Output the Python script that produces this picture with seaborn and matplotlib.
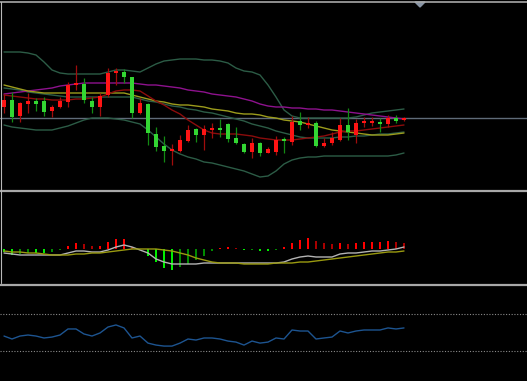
import numpy as np
import pandas as pd
import matplotlib
matplotlib.use("Agg")
import matplotlib.pyplot as plt
import matplotlib.patches as mpatches
from matplotlib.lines import Line2D
import seaborn as sns

# candles (price units, no scale shown on the chart)
opens = [93, 100, 84, 96, 99, 99, 89, 93, 98, 115, 116, 99, 93, 105, 127, 128, 123, 87, 96, 66,
         54, 49, 49, 59, 71, 65, 70, 72, 76, 62, 56, 48, 57, 47, 48, 61, 58, 79, 75, 77,
         54, 57, 60, 75, 65, 77, 77, 77, 76, 82, 80]
highs = [106, 108, 98, 107, 102, 103, 95, 103, 118, 135, 122, 103, 107, 132, 132, 131, 123, 102, 97, 73,
         64, 56, 65, 75, 72, 75, 77, 81, 77, 73, 57, 62, 58, 53, 64, 63, 84, 88, 83, 79,
         62, 68, 82, 92, 81, 83, 83, 82, 85, 85, 83]
lows = [87, 78, 78, 87, 89, 84, 83, 92, 93, 110, 97, 87, 84, 103, 115, 117, 82, 86, 55, 49,
        38, 35, 48, 58, 58, 50, 62, 63, 58, 56, 47, 42, 44, 47, 45, 47, 55, 70, 72, 53,
        53, 55, 59, 60, 57, 73, 74, 68, 73, 77, 79]
closes = [100, 83, 97, 99, 96, 88, 93, 99, 115, 117, 100, 93, 104, 127, 129, 123, 87, 97, 67, 53,
          49, 51, 60, 70, 65, 71, 72, 70, 61, 57, 48, 57, 47, 51, 60, 59, 78, 75, 77, 54,
          57, 62, 75, 68, 77, 78, 78, 76, 82, 79, 82]

# overlays
bb_upper = [148, 148, 148, 147, 145, 138, 130, 127, 126, 126, 126, 126, 126, 128, 130, 130, 129, 128, 132, 136,
            139, 140, 141, 141, 141, 140, 140, 139, 137, 132, 129, 128, 125, 115, 103, 90, 84, 82, 82, 82,
            82, 82, 82, 82, 83, 85, 87, 88, 89, 90, 91]
bb_mid = [112, 111, 110, 108, 107, 106, 105, 104, 103, 103, 103, 103, 103, 103, 103, 103, 103, 101, 99, 98,
          96, 94, 93, 91, 90, 88, 87, 85, 83, 81, 79, 76, 74, 72, 69, 67, 65, 63, 62, 62,
          62, 62, 63, 63, 64, 64, 65, 66, 66, 67, 68]
bb_lower = [75, 73, 72, 71, 70, 70, 70, 72, 74, 77, 80, 82, 82, 82, 81, 80, 78, 76, 70, 63,
            56, 50, 46, 43, 41, 38, 37, 35, 33, 31, 29, 26, 23, 24, 29, 36, 40, 42, 43, 43,
            44, 44, 44, 44, 44, 44, 44, 44, 44, 45, 47]
ma_purple = [106, 107, 108, 109, 110, 111, 112, 114, 115, 116, 117, 117, 117, 117, 117, 117, 117, 116, 115, 115,
             114, 113, 112, 110, 109, 108, 106, 105, 104, 103, 101, 99, 96, 94, 93, 93, 92, 92, 91, 91,
             90, 90, 89, 88, 87, 86, 85, 84, 83, 82, 81]
ma_yellow = [115, 113, 111, 109, 108, 107, 107, 107, 107, 107, 107, 107, 107, 107, 107, 107, 105, 103, 101, 99,
             98, 96, 95, 95, 94, 93, 91, 90, 89, 87, 86, 86, 85, 83, 82, 80, 79, 78, 76, 74,
             72, 70, 69, 68, 67, 66, 65, 65, 65, 66, 67]
ma_red = [105, 104, 103, 102, 101, 101, 100, 100, 100, 101, 101, 102, 103, 106, 109, 110, 110, 109, 104, 99,
          95, 90, 86, 80, 75, 70, 67, 66, 66, 66, 65, 64, 62, 61, 60, 60, 60, 61, 62, 63,
          64, 66, 68, 69, 69, 70, 71, 72, 73, 74, 75]
last_price = 82

# MACD panel
macd_hist = [-3, -6, -5, -4, -4, -4, -3, -1, 3, 6, 5, 3, 3, 7, 10, 10, 2, 0, -7, -13,
             -19, -21, -18, -15, -11, -7, -2, 1, 2, 1, -1, -0.8, -2, -2, -1, 2, 6, 9, 11, 8,
             6, 5, 6.5, 5.5, 6.3, 7.3, 7.3, 7.3, 8.3, 7.3, 6.3]
macd_line = [-4, -5, -6, -6, -6, -6, -6, -6, -4, -2, -2, -3, -3, -1, 2, 4, 2, -1, -4, -10,
             -13, -15, -15, -15, -15, -14, -14, -14, -14, -14, -14, -14, -14, -14, -14, -13, -10, -8, -7, -8,
             -8, -8, -5, -4, -4, -3, -2, -2, -1, 0, 2]
macd_signal = [-2, -3, -3, -4, -4, -5, -6, -6, -6, -5, -5, -4, -4, -3, -2, -1, 0, 0, 0, 0,
               -1, -2, -4, -6, -9, -11, -13, -14, -14, -14, -15, -15, -15, -15, -14, -14, -14, -13, -13, -12,
               -11, -10, -9, -8, -7, -6, -5, -4, -3, -3, -2]

# RSI panel
rsi = [46.2, 43.0, 46.2, 47.3, 46.2, 44.1, 45.1, 47.3, 53.8, 53.8, 48.4, 46.2, 49.5, 55.9, 58.1, 54.9, 44.1, 46.2, 38.6, 36.5,
       35.4, 35.4, 38.6, 43.0, 41.9, 44.1, 44.1, 43.0, 40.8, 39.7, 36.5, 40.8, 38.6, 39.7, 44.1, 43.0, 52.7, 51.6, 51.6, 43.0,
       44.1, 45.1, 51.6, 49.5, 51.6, 52.7, 52.7, 52.7, 54.9, 53.8, 54.9]
rsi_levels = [70, 30]

W, H = 527, 381


def axes_px(fig, top, bottom):
    # rectangle given in image pixels
    return fig.add_axes([0, 1 - bottom / H, 1, (bottom - top) / H])


def main():
    sns.set_theme(style="dark", rc={"axes.facecolor": "black", "figure.facecolor": "black"})

    n = len(closes)
    df = pd.DataFrame({
        "i": np.arange(n), "open": opens, "high": highs, "low": lows, "close": closes,
        "up": bb_upper, "mid": bb_mid, "lo": bb_lower,
        "purple": ma_purple, "yellow": ma_yellow, "red": ma_red,
        "hist": macd_hist, "macd": macd_line, "signal": macd_signal, "rsi": rsi,
    })

    fig = plt.figure(figsize=(W / 100, H / 100), dpi=100, facecolor="black")
    ax1 = axes_px(fig, 3, 189)
    ax2 = axes_px(fig, 192, 283)
    ax3 = axes_px(fig, 286, 379)
    xlim = (-0.5, W / 8 - 0.5)

    # --- price panel
    bull = df["close"] >= df["open"]
    body_lo = np.minimum(df["open"], df["close"])
    body_h = np.maximum((df["close"] - df["open"]).abs(), 1.6)
    ax1.vlines(df["i"], df["low"], df["high"], colors=np.where(bull, "#a00c0c", "#138a13"), lw=0.9, zorder=3)
    ax1.bar(df["i"], body_h, bottom=body_lo, width=0.62,
            color=np.where(bull, "#ff1414", "#33d633"), linewidth=0, zorder=4)

    for col, c in [("up", "#2c5c46"), ("mid", "#2c5c46"), ("lo", "#2c5c46"),
                   ("purple", "#8e128e"), ("yellow", "#9c9c1c"), ("red", "#8c0c0c")]:
        sns.lineplot(data=df, x="i", y=col, ax=ax1, color=c, lw=1.0, zorder=2)
    ax1.axhline(last_price, color="#5f6b78", lw=1.0, zorder=1)
    ax1.set_ylim(200 - 189, 200 - 3)

    # --- MACD panel
    prev = df["hist"].shift(1).fillna(0)
    hist_colors = [
        ("#ff0000" if h >= p else "#a80000") if h > 0 else ("#00ee00" if h <= p else "#008a00")
        for h, p in zip(df["hist"], prev)
    ]
    ax2.bar(df["i"], df["hist"], width=0.25, color=hist_colors, linewidth=0, zorder=2)
    sns.lineplot(data=df, x="i", y="macd", ax=ax2, color="#b4b4b4", lw=1.0, zorder=3)
    sns.lineplot(data=df, x="i", y="signal", ax=ax2, color="#9a9a10", lw=1.0, zorder=3)
    ax2.set_ylim(249 - 283, 249 - 192)

    # --- RSI panel
    sns.lineplot(data=df, x="i", y="rsi", ax=ax3, color="#1d5490", lw=1.0)
    for lv in rsi_levels:
        ax3.axhline(lv, color="#8a8a8a", lw=0.8, ls=(0, (1, 1.5)))
    ax3.set_ylim(0, 100)

    for ax in (ax1, ax2, ax3):
        ax.set_xlim(*xlim)
        ax.set_axis_off()

    # panel separators and frame
    def hline(y, lw, c):
        fig.add_artist(Line2D([0, 1], [1 - y / H, 1 - y / H], color=c, lw=lw, transform=fig.transFigure))

    hline(1.5, 1.2, "#a8a8a8")
    hline(190.5, 1.6, "#a8a8a8")
    hline(285, 1.6, "#a8a8a8")
    fig.add_artist(Line2D([0.6 / W, 0.6 / W], [1 - 283 / H, 1 - 2 / H], color="#b8b8b8",
                          lw=0.8, transform=fig.transFigure))
    tri = mpatches.Polygon([[415 / W, 1 - 2 / H], [425 / W, 1 - 2 / H], [420 / W, 1 - 7 / H]],
                           closed=True, color="#8894a4", transform=fig.transFigure)
    fig.add_artist(tri)

    fig.savefig("out.png", dpi=100, facecolor="black")


if __name__ == "__main__":
    main()
